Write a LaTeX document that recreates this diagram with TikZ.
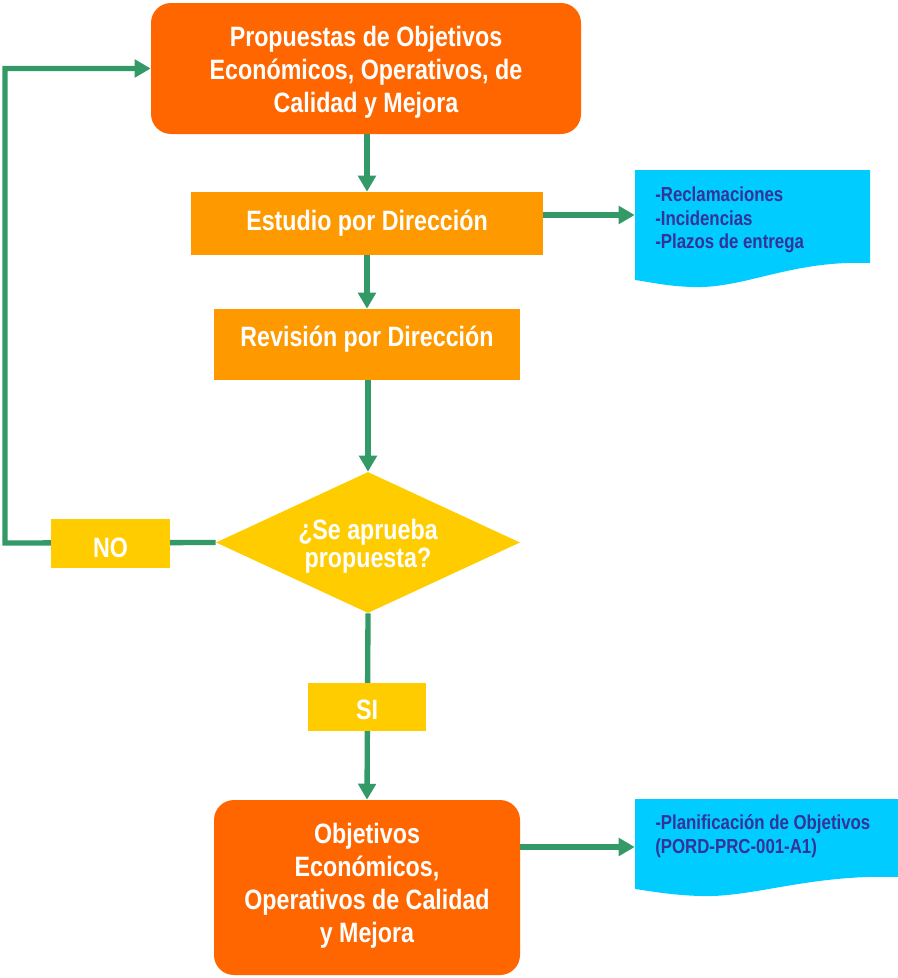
\documentclass[tikz,border=0pt]{standalone}
\usepackage{fontspec}
\setmainfont{Liberation Sans}[FakeStretch=0.83]
\usetikzlibrary{arrows.meta,shapes.geometric}

\definecolor{deeporange}{HTML}{FF6600}
\definecolor{lightorange}{HTML}{FF9900}
\definecolor{gold}{HTML}{FFCC00}
\definecolor{skyblue}{HTML}{00CCFF}
\definecolor{flowgreen}{HTML}{339966}
\definecolor{inkblue}{HTML}{333399}

\tikzset{
  boxtext/.style={text=white, font=\bfseries\fontsize{21}{24.75}\selectfont, align=center, inner sep=0pt},
  roundbox/.style={fill=deeporange, rounded corners=15pt, inner sep=0pt},
  stepbox/.style={fill=lightorange, inner sep=0pt},
  labelbox/.style={fill=gold, inner sep=0pt},
  decision/.style={fill=gold, diamond, aspect=2.15, inner sep=0pt},
  docarea/.style={inner sep=0pt},
  doctext/.style={text=inkblue, font=\bfseries\fontsize{15.2}{17.6}\selectfont, align=left, inner sep=0pt, anchor=north west},
  flow/.style={draw=flowgreen, line width=4pt, -{Triangle[width=13pt,length=12pt]}}
}

\begin{document}
\begin{tikzpicture}[x=0.75pt, y=-0.75pt]
  \useasboundingbox (0,0) rectangle (898,978);

  % process boxes
  \node[roundbox, minimum width=322.5pt, minimum height=98.25pt] (top) at (366,68.5) {};
  \node[stepbox, minimum width=264pt, minimum height=47.25pt] (estudio) at (367,223.5) {};
  \node[stepbox, minimum width=229.5pt, minimum height=53.25pt] (revision) at (367,344.5) {};
  \node[decision, minimum width=228pt, minimum height=105.75pt] (aprueba) at (368,542.5) {};
  \node[roundbox, minimum width=229.5pt, minimum height=131.25pt] (objetivos) at (367,887.5) {};

  % document shapes with a wavy lower edge
  \fill[skyblue] (635,170) -- (870,170) -- (870,263)
    .. controls (790,260) and (745,289) .. (692,287)
    .. controls (665,286) and (650,282) .. (635,280) -- cycle;
  \node[docarea, minimum width=176.25pt, minimum height=67.5pt] (doc1) at (752.5,215) {};

  \fill[skyblue] (635,799) -- (898,799) -- (898,877)
    .. controls (810,874) and (752,898) .. (700,896)
    .. controls (670,895) and (650,891) .. (635,889) -- cycle;
  \node[docarea, minimum width=197.25pt, minimum height=72pt] (doc2) at (766.5,847) {};

  % connectors
  \coordinate (loopcorner) at (5,543);
  \draw[flow] (top.south -| estudio.north) -- (estudio.north);
  \draw[flow] (estudio.east |- doc1.west) -- (doc1.west);
  \draw[flow] (estudio.south) -- (revision.north);
  \draw[flow] (revision.south -| aprueba.north) -- (aprueba.north);
  \draw[flow] (aprueba.west) -- (loopcorner) |- (top.west);
  \draw[flow] (aprueba.south) -- (objetivos.north);
  \draw[flow] (objetivos.east |- doc2.west) -- (doc2.west);

  % branch labels drawn over the connectors
  \node[labelbox, minimum width=89.25pt, minimum height=36.75pt] (no) at (110.5,543.5) {};
  \node[labelbox, minimum width=88.5pt, minimum height=36pt] (si) at (367,707) {};

  % texts
  \node[boxtext] (topText) at (366,72)
    {Propuestas de Objetivos\\Económicos, Operativos, de\\Calidad y Mejora};
  \node[boxtext] (estudioText) at (367,223) {Estudio por Dirección};
  \node[boxtext] (revisionText) at (367,339) {Revisión por Dirección};
  \node[boxtext, font=\bfseries\fontsize{21}{21}\selectfont] (apruebaText) at (368,546.5)
    {¿Se aprueba\\propuesta?};
  \node[boxtext] (objetivosText) at (367,885.5)
    {Objetivos\\Económicos,\\Operativos de Calidad\\y Mejora};
  \node[boxtext] (noText) at (110.5,548) {NO};
  \node[boxtext] (siText) at (367,710) {SI};
  \node[doctext] (doc1text) at (655,187) {-Reclamaciones\\-Incidencias\\-Plazos de entrega};
  \node[doctext] (doc2text) at (655,814.5) {-Planificación de Objetivos\\(PORD-PRC-001-A1)};
\end{tikzpicture}
\end{document}
